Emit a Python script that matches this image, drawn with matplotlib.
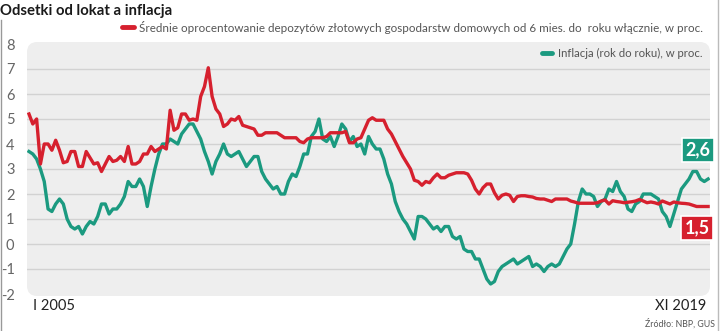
import numpy as np
import matplotlib
matplotlib.use("Agg")
import matplotlib.pyplot as plt
from matplotlib.patches import FancyBboxPatch

plt.rcParams['font.family'] = ['Lato', 'DejaVu Sans']

# monthly data, I 2005 .. XI 2019
deposits = [5.2, 4.8, 5.0, 3.2, 4.0, 4.0, 3.75, 4.15, 3.75, 3.25, 3.3, 3.7,
            3.7, 3.1, 3.1, 3.7, 3.45, 3.2, 3.25, 2.9, 3.2, 3.5, 3.3, 3.35,
            3.5, 3.3, 3.9, 3.2, 3.2, 3.3, 3.6, 3.6, 3.9, 3.7, 3.8, 3.9,
            3.8, 5.35, 4.55, 4.65, 5.2, 5.2, 4.95, 5.0, 4.95, 5.9, 6.3, 7.05,
            5.9, 5.4, 5.2, 4.7, 4.8, 5.0, 4.95, 5.1, 4.75, 4.7, 4.65, 4.6,
            4.35, 4.35, 4.45, 4.45, 4.45, 4.45, 4.35, 4.25, 4.25, 4.25, 4.25, 4.1,
            4.05, 4.2, 4.25, 4.25, 4.25, 4.25, 4.3, 4.45, 4.45, 4.45, 4.45, 4.5,
            4.05, 4.05, 4.2, 4.25, 4.6, 4.95, 5.05, 4.95, 4.95, 4.95, 4.6, 4.4,
            4.1, 3.8, 3.5, 3.25, 3.0, 2.55, 2.5, 2.35, 2.5, 2.45, 2.65, 2.8,
            2.65, 2.65, 2.75, 2.8, 2.85, 2.85, 2.85, 2.8, 2.55, 2.2, 2.0, 2.25,
            2.4, 2.4, 2.05, 1.8, 1.95, 2.0, 1.95, 1.7, 1.9, 1.93, 1.93, 1.9,
            1.88, 1.82, 1.8, 1.8, 1.75, 1.7, 1.8, 1.8, 1.8, 1.8, 1.72, 1.68,
            1.63, 1.63, 1.63, 1.63, 1.63, 1.65, 1.72, 1.76, 1.6, 1.73, 1.7, 1.68,
            1.65, 1.67, 1.69, 1.72, 1.78, 1.72, 1.65, 1.68, 1.65, 1.6, 1.72, 1.66,
            1.6, 1.68, 1.65, 1.63, 1.62, 1.6, 1.55, 1.5, 1.5, 1.5, 1.5]

inflation = [3.7, 3.6, 3.4, 3.0, 2.5, 1.4, 1.3, 1.6, 1.8, 1.6, 1.0, 0.7,
             0.6, 0.7, 0.4, 0.7, 0.9, 0.8, 1.1, 1.6, 1.6, 1.2, 1.4, 1.4,
             1.6, 1.9, 2.5, 2.3, 2.3, 2.6, 2.3, 1.5, 2.3, 3.0, 3.6, 4.0,
             4.0, 4.2, 4.1, 4.0, 4.4, 4.6, 4.8, 4.8, 4.5, 4.2, 3.7, 3.3,
             2.8, 3.3, 3.6, 4.0, 3.6, 3.5, 3.6, 3.7, 3.4, 3.1, 3.3, 3.5,
             3.5, 2.9, 2.6, 2.4, 2.2, 2.3, 2.0, 2.0, 2.5, 2.8, 2.7, 3.1,
             3.6, 3.6, 4.3, 4.5, 5.0, 4.2, 4.1, 4.3, 3.9, 4.3, 4.8, 4.6,
             4.1, 4.3, 3.9, 4.0, 3.6, 4.3, 4.0, 3.8, 3.8, 3.4, 2.8, 2.4,
             1.7, 1.3, 1.0, 0.8, 0.5, 0.2, 1.1, 1.1, 1.0, 0.8, 0.6, 0.7,
             0.5, 0.7, 0.7, 0.3, 0.2, 0.3, -0.2, -0.3, -0.3, -0.6, -0.6, -1.0,
             -1.4, -1.6, -1.5, -1.1, -0.9, -0.8, -0.7, -0.6, -0.8, -0.7, -0.6, -0.5,
             -0.9, -0.8, -0.9, -1.1, -0.9, -0.8, -0.9, -0.8, -0.5, -0.2, 0.0, 0.8,
             1.7, 2.2, 2.0, 2.0, 1.9, 1.5, 1.7, 1.8, 2.2, 2.1, 2.5, 2.1,
             1.9, 1.4, 1.3, 1.6, 1.7, 2.0, 2.0, 2.0, 1.9, 1.8, 1.3, 1.1,
             0.7, 1.2, 1.7, 2.2, 2.4, 2.6, 2.9, 2.9, 2.6, 2.5, 2.6]

yticks = [8, 7, 6, 5, 4, 3, 2, 1, 0, -1, -2]
first_label = "I 2005"
last_label = "XI 2019"
red_label = "Średnie oprocentowanie depozytów złotowych gospodarstw domowych od 6 mies. do  roku włącznie, w proc."
green_label = "Inflacja (rok do roku), w proc."

red = '#d6202e'
green = '#1b9a80'
W, H = 720, 331

fig = plt.figure(figsize=(W / 100, H / 100), dpi=100)
ax = fig.add_axes([27 / W, 1 - 296 / H, 683 / W, 254 / H])
ax.set_xlim(-0.52, 178.5)
ax.set_ylim(-2.08, 8.08)
ax.patch.set_visible(False)
for s in ax.spines.values():
    s.set_visible(False)

bg = FancyBboxPatch((0, 0), 1, 1, boxstyle="round,pad=0,rounding_size=0.015",
                    transform=ax.transAxes, facecolor='#eeeeee', edgecolor='none',
                    zorder=0, mutation_aspect=2.7)
ax.add_patch(bg)
for v in range(-1, 8):
    ax.axhline(v, color='#d2d2d2', lw=1.0, zorder=1)

x = np.arange(len(deposits))
ax.plot(x, inflation, color=green, lw=2.4, solid_joinstyle='round', zorder=3)
ax.plot(x, deposits, color=red, lw=2.4, solid_joinstyle='round', zorder=4)

ax.set_xticks([])
ax.set_yticks(yticks)
ax.set_yticklabels([str(t) for t in yticks], fontsize=10.5, color='#666666')
ax.tick_params(axis='y', length=0, pad=9)

def fx(px):
    return px / W

def fy(py):
    return 1 - py / H

renderer = fig.canvas.get_renderer()

# squeeze a text to a given pixel width (the original uses a condensed face)
def fit_text(px0, px1, py, s, ha='left', **kw):
    t = fig.text(fx(px0 if ha == 'left' else px1), fy(py), s, va='center', ha=ha, **kw)
    w = t.get_window_extent(renderer).width
    t.set_fontsize(t.get_fontsize() * (px1 - px0) / w)
    return t

fit_text(0, 170, 11, "Odsetki od lokat a inflacja", fontsize=12, fontweight='bold',
         color='#1a1a1a')
fig.lines.append(plt.Line2D([fx(122), fx(134)], [fy(27), fy(27)], color=red, lw=3.5,
                            transform=fig.transFigure, solid_capstyle='round'))
fit_text(141, 703, 27, red_label, ha='right', fontsize=10, color='#555555')
fig.lines.append(plt.Line2D([fx(542), fx(552)], [fy(53), fy(53)], color=green, lw=3.5,
                            transform=fig.transFigure, solid_capstyle='round'))
fit_text(557, 703, 53, green_label, ha='right', fontsize=10, color='#555555')

fig.text(fx(33), fy(306), first_label, fontsize=10.5, color='#222222', va='center', ha='left')
fig.text(fx(706), fy(306), last_label, fontsize=10.5, color='#222222', va='center', ha='right')
fit_text(645, 715, 324, "Źródło: NBP, GUS", ha='right', fontsize=7.5, color='#555555')

# value boxes at the end of the series
fig.text(fx(698), fy(150), "2,6", ha='center', va='center', fontsize=13,
         fontweight='bold', color='white',
         bbox=dict(boxstyle='square,pad=0.2', fc=green, ec='white', lw=1.2))
fig.text(fx(697), fy(228), "1,5", ha='center', va='center', fontsize=13,
         fontweight='bold', color='white',
         bbox=dict(boxstyle='square,pad=0.2', fc=red, ec='white', lw=1.2))

# frame edges
fig.lines.append(plt.Line2D([fx(0.5), fx(0.5)], [fy(20), fy(331)], color='#999999', lw=1,
                            transform=fig.transFigure))
fig.lines.append(plt.Line2D([fx(717.5), fx(717.5)], [fy(0), fy(331)], color='#bbbbbb', lw=1,
                            transform=fig.transFigure))

fig.savefig("out.png", dpi=100, facecolor='white')
